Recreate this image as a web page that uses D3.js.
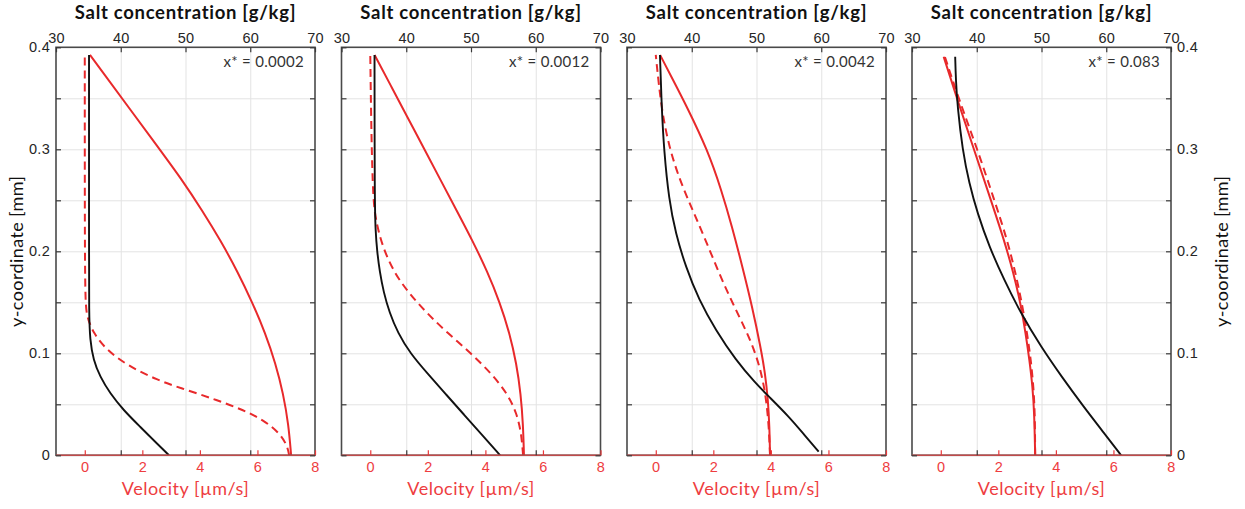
<!DOCTYPE html>
<html>
<head>
<meta charset="utf-8">
<script src="https://cdn.jsdelivr.net/npm/d3@7"></script>
<style>
  body { margin: 0; background: #fff; }
  svg { display: block; font-family: Lato, "DejaVu Sans", sans-serif; }
  .grid line { stroke: #e3e3e3; stroke-width: 1; }
  .grid path { display: none; }
  .ax path { display: none; }
  .ax line { stroke: #3a3a3a; stroke-width: 1.2; }
  .ax text { fill: #262626; font-size: 14.5px; letter-spacing: 0.3px; }
  .vel line { stroke: #e8383a; }
  .vel text { fill: #ee3d3f; }
</style>
</head>
<body>
<div id="chart"></div>
<script>
// profiles at four streamwise positions: [y-coordinate (mm), value]

var xStarLabels = ["x* = 0.0002", "x* = 0.0012", "x* = 0.0042", "x* = 0.083"];
var saltTicks = [30, 40, 50, 60, 70];
var velTicks = [0, 2, 4, 6, 8];
var yTicks = [0, 0.05, 0.1, 0.15, 0.2, 0.25, 0.3, 0.35, 0.4];

// salt concentration [g/kg] (black)
var salt1 = [[0,47.45],[0.0118,45.55],[0.0281,42.97],[0.0444,40.40],[0.0608,38.34],[0.0771,36.80],[0.0935,35.77],[0.1131,35.25],[0.1392,35.10],[0.2,35.10],[0.3925,35.10]];
var salt2 = [[0,54.5],[0.02,51.7],[0.04,48.9],[0.06,46.1],[0.08,43.3],[0.1,40.6],[0.12,38.7],[0.14,37.4],[0.16,36.5],[0.18,35.9],[0.2,35.5],[0.22,35.25],[0.25,35.12],[0.3925,35.1]];
var salt3 = [[0.0035,59.6],[0.0215,57.2],[0.0379,55.0],[0.0575,51.93],[0.0706,49.87],[0.0935,46.78],[0.1229,43.69],[0.1523,41.11],[0.1849,39.06],[0.2176,37.51],[0.2503,36.48],[0.2993,35.71],[0.3418,35.35],[0.3925,35.09]];
var salt4 = [[0,62.3],[0.0215,59.7],[0.0477,56.5],[0.0771,53.1],[0.1065,49.90],[0.1392,46.81],[0.1719,44.23],[0.2046,41.92],[0.2372,40.12],[0.2667,38.83],[0.2993,37.80],[0.3418,37.03],[0.3680,36.77],[0.3908,36.67]];

// velocity [um/s], solid red
var velSolid1 = [[0,7.17],[0.03,7.08],[0.06,6.90],[0.09,6.63],[0.12,6.27],[0.15,5.82],[0.18,5.31],[0.21,4.73],[0.24,4.08],[0.27,3.38],[0.30,2.60],[0.3925,0.18]];
var velSolid2 = [[0,5.34],[0.03,5.31],[0.06,5.23],[0.09,5.08],[0.12,4.84],[0.15,4.50],[0.18,4.07],[0.21,3.56],[0.24,3.0],[0.27,2.44],[0.30,1.88],[0.33,1.32],[0.36,0.76],[0.3925,0.15]];
var velSolid3 = [[0,3.97],[0.0281,3.95],[0.0542,3.90],[0.0804,3.80],[0.1065,3.64],[0.1457,3.35],[0.1849,3.01],[0.2242,2.65],[0.2601,2.28],[0.2993,1.80],[0.3418,1.08],[0.3680,0.60],[0.3925,0.15]];
var velSolid4 = [[0,3.28],[0.0412,3.25],[0.0673,3.19],[0.0935,3.08],[0.1196,2.95],[0.1490,2.77],[0.1784,2.53],[0.2111,2.20],[0.2503,1.74],[0.2993,1.16],[0.3483,0.58],[0.3908,0.10]];

// velocity [um/s], dashed red
var velDashed1 = [[0,7.10],[0.0084,7.05],[0.0215,6.79],[0.0346,6.21],[0.0444,5.51],[0.0542,4.59],[0.0640,3.54],[0.0738,2.50],[0.0885,1.46],[0.1032,0.76],[0.1196,0.30],[0.1359,0.07],[0.1523,0.01],[0.25,0.0],[0.3925,0.0]];
var velDashed2 = [[0,5.31],[0.0215,5.25],[0.0412,5.09],[0.0608,4.76],[0.0804,4.20],[0.1,3.50],[0.1196,2.70],[0.1392,1.97],[0.1588,1.35],[0.1784,0.84],[0.2046,0.42],[0.2307,0.19],[0.2503,0.10],[0.3091,0.04],[0.3925,0.0]];
var velDashed3 = [[0,3.97],[0.0281,3.93],[0.0542,3.84],[0.0771,3.70],[0.1,3.47],[0.1229,3.13],[0.1490,2.67],[0.1784,2.20],[0.2111,1.73],[0.2405,1.28],[0.2699,0.83],[0.3026,0.46],[0.3353,0.23],[0.3647,0.10],[0.3925,0.0]];
var velDashed4 = [[0,3.28],[0.0412,3.27],[0.0673,3.22],[0.0935,3.13],[0.1196,3.00],[0.1490,2.82],[0.1784,2.60],[0.2111,2.31],[0.2503,1.86],[0.2993,1.28],[0.3483,0.64],[0.3908,0.14]];

var saltData = [salt1, salt2, salt3, salt4];
var solidData = [velSolid1, velSolid2, velSolid3, velSolid4];
var dashedData = [velDashed1, velDashed2, velDashed3, velDashed4];

var W = 1245, H = 509;
var panelLeft = [56, 341.5, 627, 912];
var pw = 259;
var plotTop = 47.3, ph = 408;
var red = "#e8292b";

var svg = d3.select("#chart").append("svg")
    .attr("width", W)
    .attr("height", H);

var ys = d3.scaleLinear().domain([0, 0.4]).range([ph, 0]);
var xs = d3.scaleLinear().domain([30, 70]).range([0, pw]);
var xv = d3.scaleLinear().domain([-1, 8]).range([0, pw]);

function yFmt(v) {
    var t = v * 10;
    return Math.abs(t - Math.round(t)) < 1e-6 ? String(Math.round(t) / 10) : "";
}

panelLeft.forEach(function(left, i) {
    var g = svg.append("g").attr("transform", "translate(" + left + "," + plotTop + ")");

    //grid
    g.append("g").attr("class", "grid")
        .call(d3.axisTop(xs).tickValues([40, 50, 60]).tickSize(-ph).tickFormat(""));
    g.append("g").attr("class", "grid")
        .call(d3.axisLeft(ys).tickValues(yTicks.slice(1, -1)).tickSize(-pw).tickFormat(""));

    //curves
    var lineS = d3.line().x(d => xs(d[1])).y(d => ys(d[0])).curve(d3.curveBasis);
    var lineV = d3.line().x(d => xv(d[1])).y(d => ys(d[0])).curve(d3.curveBasis);

    g.append("path").datum(dashedData[i])
        .attr("d", lineV)
        .attr("fill", "none")
        .attr("stroke", red)
        .attr("stroke-width", 2)
        .attr("stroke-dasharray", "8,5");
    g.append("path").datum(solidData[i])
        .attr("d", lineV)
        .attr("fill", "none")
        .attr("stroke", red)
        .attr("stroke-width", 2);
    g.append("path").datum(saltData[i])
        .attr("d", lineS)
        .attr("fill", "none")
        .attr("stroke", "#111")
        .attr("stroke-width", 1.9);

    //box
    g.append("rect")
        .attr("width", pw).attr("height", ph)
        .attr("fill", "none")
        .attr("stroke", "#4a4a4a")
        .attr("stroke-width", 1.6);
    g.append("line")
        .attr("x1", 0).attr("x2", pw).attr("y1", ph).attr("y2", ph)
        .attr("stroke", "#c04a4a").attr("stroke-width", 1.6);

    //top salt axis
    g.append("g").attr("class", "ax")
        .call(d3.axisTop(xs).tickValues(saltTicks).tickSizeInner(-5).tickSizeOuter(0).tickPadding(4));
    g.append("g").attr("class", "ax")
        .attr("transform", "translate(0," + ph + ")")
        .call(d3.axisBottom(xs).tickValues([40, 50, 60]).tickSize(-5).tickFormat(""));

    //bottom velocity axis
    g.append("g").attr("class", "ax vel")
        .attr("transform", "translate(0," + ph + ")")
        .call(d3.axisBottom(xv).tickValues(velTicks).tickSizeInner(-5).tickSizeOuter(0).tickPadding(6));

    //side axes
    g.append("g").attr("class", "ax")
        .call(d3.axisLeft(ys).tickValues(yTicks).tickSizeInner(-5).tickSizeOuter(0).tickPadding(6)
            .tickFormat(i === 0 ? yFmt : ""));
    g.append("g").attr("class", "ax")
        .attr("transform", "translate(" + pw + ",0)")
        .call(d3.axisRight(ys).tickValues(yTicks).tickSizeInner(-5).tickSizeOuter(0).tickPadding(6)
            .tickFormat(i === 3 ? yFmt : ""));

    //titles
    g.append("text")
        .attr("x", pw / 2).attr("y", 18.5 - plotTop)
        .attr("text-anchor", "middle")
        .attr("font-size", 18.5).attr("font-weight", "bold")
        .attr("letter-spacing", 0.7)
        .attr("fill", "#111")
        .text("Salt concentration [g/kg]");
    g.append("text")
        .attr("x", pw / 2).attr("y", 495 - plotTop)
        .attr("text-anchor", "middle")
        .attr("font-size", 18)
        .attr("letter-spacing", 0.5)
        .attr("fill", "#ee3d3f")
        .text("Velocity [\u00b5m/s]");
    g.append("text")
        .attr("x", pw - 11).attr("y", 20)
        .attr("text-anchor", "end")
        .attr("font-size", 15)
        .attr("letter-spacing", 0.3)
        .attr("fill", "#333")
        .text(xStarLabels[i]);
});

svg.append("text")
    .attr("transform", "translate(23," + (plotTop + ph / 2) + ") rotate(-90)")
    .attr("text-anchor", "middle")
    .attr("font-size", 18)
    .attr("letter-spacing", 0.4)
    .attr("fill", "#111")
    .text("y-coordinate [mm]");
svg.append("text")
    .attr("transform", "translate(1228," + (plotTop + ph / 2) + ") rotate(-90)")
    .attr("text-anchor", "middle")
    .attr("font-size", 18)
    .attr("letter-spacing", 0.4)
    .attr("fill", "#111")
    .text("y-coordinate [mm]");
</script>
</body>
</html>
